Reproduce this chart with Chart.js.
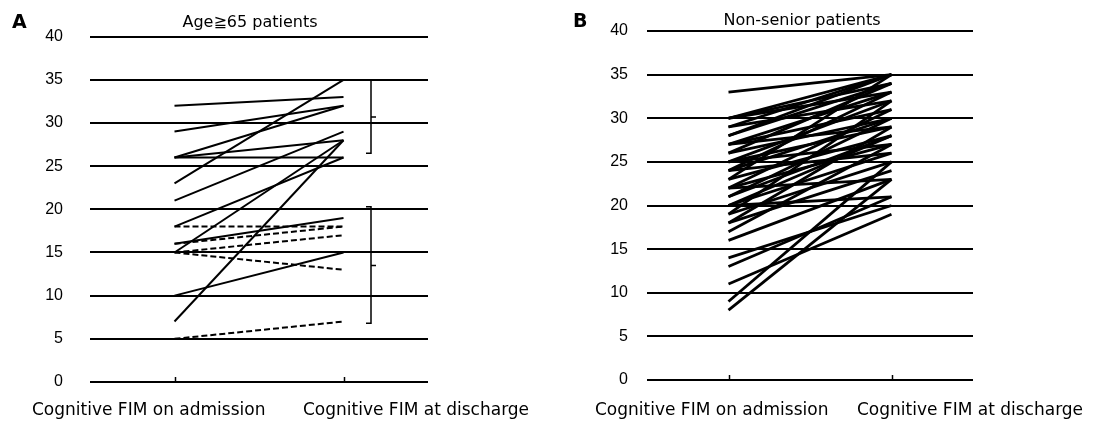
<!DOCTYPE html>
<html>
<head>
<meta charset="utf-8">
<script src="https://cdn.jsdelivr.net/npm/chart.js@4.4.0/dist/chart.umd.min.js"></script>
<style>
  html, body { margin: 0; padding: 0; background: #fff; }
  #wrap { position: relative; width: 1102px; height: 421px; }
  .panel { position: absolute; top: 0; width: 551px; height: 421px; }
</style>
</head>
<body>
<div id="wrap">
  <div class="panel" style="left:0"><canvas id="chartA" width="551" height="421"></canvas></div>
  <div class="panel" style="left:551px"><canvas id="chartB" width="551" height="421"></canvas></div>
</div>
<script>
// categories on the x axis
const categories = ['Cognitive FIM on admission', 'Cognitive FIM at discharge'];
const yMin = 0, yMax = 40, yStep = 5;

// Panel A: age >= 65 patients (solid and dashed groups)
const seniorSolidAdmission = [32, 29, 26, 26, 26, 23, 21, 18, 16, 15, 10, 7];
const seniorSolidDischarge = [33, 32, 32, 28, 26, 35, 29, 26, 19, 28, 15, 28];
const seniorDashedAdmission = [18, 16, 15, 15, 5];
const seniorDashedDischarge = [18, 18, 17, 13, 7];
// brackets at the right of panel A: [top, bottom, middle mark]
const seniorBrackets = [[35, 26.5, 30.7], [20.3, 6.8, 13.5]];

// Panel B: non-senior patients
const juniorAdmission = [33, 30, 30, 30, 29, 29, 28, 28, 27, 27, 27, 26, 26, 25, 25, 25, 24, 24, 24, 23,
                         23, 22, 22, 22, 21, 21, 20, 20, 19, 19, 18, 18, 17, 16, 14, 13, 11, 9, 8, 20];
const juniorDischarge = [35, 35, 34, 33, 35, 32, 35, 34, 33, 31, 29, 34, 30, 32, 29, 27, 33, 30, 26, 35,
                         28, 31, 27, 23, 30, 28, 28, 26, 32, 25, 29, 24, 27, 23, 20, 21, 19, 25, 23, 21];

function pairs(adm, dis, width, dash) {
  return adm.map((a, i) => ({
    data: [a, dis[i]],
    borderColor: '#000',
    borderWidth: width,
    borderDash: dash,
    pointRadius: 0,
    fill: false,
    tension: 0
  }));
}

// extra drawing: baseline ticks, axis labels, titles, panel letters, brackets
const extrasPlugin = {
  id: 'extras',
  afterDraw(chart, args, o) {
    const ctx = chart.ctx, x = chart.scales.x, y = chart.scales.y;
    const bottom = chart.chartArea.bottom;
    ctx.save();
    ctx.strokeStyle = '#000';
    ctx.fillStyle = '#000';
    ctx.lineWidth = 1.5;
    categories.forEach((c, i) => {
      const px = Math.round(x.getPixelForValue(i)) + 0.5;
      ctx.beginPath(); ctx.moveTo(px, bottom); ctx.lineTo(px, bottom - 5); ctx.stroke();
    });
    ctx.textBaseline = 'alphabetic';
    ctx.textAlign = 'left';
    ctx.font = '17px "DejaVu Sans"';
    categories.forEach((c, i) => ctx.fillText(c, o.labelX[i], 415));
    ctx.font = '16px "DejaVu Sans"';
    ctx.textAlign = 'center';
    ctx.fillText(o.title, o.titleX, o.titleY);
    ctx.font = 'bold 19px "DejaVu Sans"';
    ctx.textAlign = 'left';
    ctx.fillText(o.letter, o.letterX, o.letterY);
    (o.brackets || []).forEach(b => {
      const bx = o.bracketX;
      const t = y.getPixelForValue(b[0]), btm = y.getPixelForValue(b[1]), m = y.getPixelForValue(b[2]);
      ctx.beginPath();
      ctx.moveTo(bx - 5, t); ctx.lineTo(bx, t); ctx.lineTo(bx, btm); ctx.lineTo(bx - 5, btm);
      ctx.moveTo(bx, m); ctx.lineTo(bx + 5, m);
      ctx.stroke();
    });
    ctx.restore();
  }
};

function makeChart(id, datasets, p) {
  return new Chart(document.getElementById(id), {
    type: 'line',
    data: { labels: categories, datasets: datasets },
    options: {
      responsive: false,
      animation: false,
      layout: { padding: { top: p.top, right: p.right, left: 0, bottom: 0 } },
      plugins: {
        legend: { display: false },
        tooltip: { enabled: false },
        extras: p.extras
      },
      scales: {
        x: {
          type: 'category',
          offset: true,
          grid: { display: false },
          border: { display: false },
          ticks: { display: false },
          afterFit: s => { s.height = p.xHeight; }
        },
        y: {
          min: yMin, max: yMax,
          grid: { color: '#000', lineWidth: 2, drawTicks: false },
          border: { display: false },
          ticks: {
            stepSize: yStep,
            padding: p.tickPad,
            color: '#000',
            font: { family: '"Liberation Sans"', size: 16 }
          },
          afterFit: s => { s.width = p.yWidth; }
        }
      }
    },
    plugins: [extrasPlugin]
  });
}

makeChart('chartA',
  pairs(seniorSolidAdmission, seniorSolidDischarge, 2, [])
    .concat(pairs(seniorDashedAdmission, seniorDashedDischarge, 2, [6, 3])),
  {
    top: 32, right: 123, xHeight: 39, yWidth: 90, tickPad: 27,
    extras: {
      labelX: [32, 303], title: 'Age\u226765 patients', titleX: 250, titleY: 27,
      letter: 'A', letterX: 12, letterY: 28,
      brackets: seniorBrackets, bracketX: 371
    }
  });

makeChart('chartB',
  pairs(juniorAdmission, juniorDischarge, 2.8, []),
  {
    top: 31, right: 129, xHeight: 41, yWidth: 96, tickPad: 19,
    extras: {
      labelX: [44, 306], title: 'Non-senior patients', titleX: 251, titleY: 25,
      letter: 'B', letterX: 22, letterY: 27,
      brackets: []
    }
  });
</script>
</body>
</html>
